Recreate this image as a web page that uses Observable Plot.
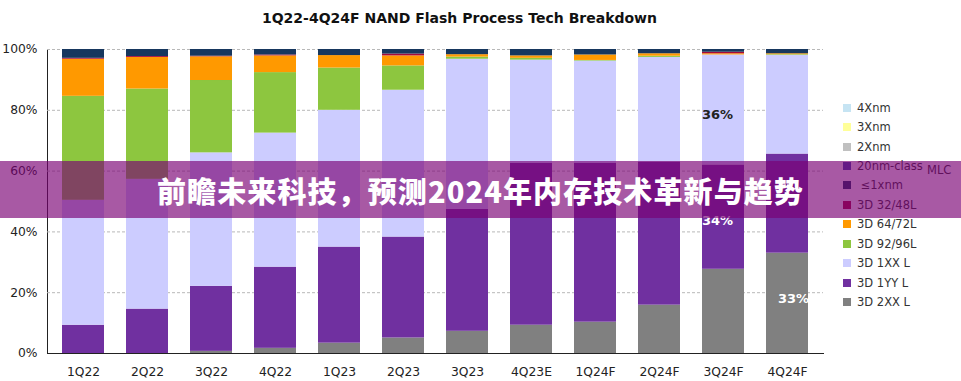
<!DOCTYPE html>
<html>
<head>
<meta charset="utf-8">
<script src="https://cdn.jsdelivr.net/npm/d3@7"></script>
<script src="https://cdn.jsdelivr.net/npm/@observablehq/plot@0.6"></script>
<style>
  body { margin: 0; background: #fff; }
  #wrap { position: relative; width: 961px; height: 381px; overflow: hidden; font-family: "DejaVu Sans", Verdana, sans-serif; }
  #chart { position: absolute; left: 0; top: 0; }
  #title { position: absolute; left: 0; width: 919px; top: 10px; text-align: center; font-weight: bold; font-size: 14px; color: #111; }
  #legend { position: absolute; left: 843px; top: 98px; font-size: 11.5px; color: #333; }
  .item { height: 19.45px; display: flex; align-items: center; white-space: nowrap; }
  .sw { width: 8px; height: 8px; margin-right: 6px; flex: none; }
  #mlc { position: absolute; left: 927px; top: 163px; font-size: 11.5px; color: #333; }
  #banner { position: absolute; left: 0; top: 161px; width: 961px; height: 57px; background: rgba(121, 0, 115, 0.65);
            display: flex; align-items: center; justify-content: center; }
  #banner span { color: #fff; font-family: "Noto Sans CJK SC", sans-serif; font-weight: 900; font-size: 29px; letter-spacing: 1.1px; }
</style>
</head>
<body>
<div id="wrap">
  <div id="chart"></div>
  <div id="title"></div>
  <div id="legend"></div>
  <div id="mlc">MLC</div>
  <div id="banner"><span></span></div>
</div>
<script>
const titleText = "1Q22-4Q24F NAND Flash Process Tech Breakdown";
const bannerText = "前瞻未来科技，预测2024年内存技术革新与趋势";

const quarters = ["1Q22","2Q22","3Q22","4Q22","1Q23","2Q23","3Q23","4Q23E","1Q24F","2Q24F","3Q24F","4Q24F"];

// stacking order, bottom to top
const techs = ["3D 2XX L","3D 1YY L","3D 1XX L","3D 92/96L","3D 64/72L","3D 32/48L","≤1xnm","20nm-class","2Xnm","3Xnm","4Xnm"];
const techColors = ["#808080","#7030a0","#ccccff","#8dc63f","#ff9900","#a50a3c","#17375e","#3f48a8","#c0c0c0","#ffff99","#c6e4f3"];

// legend order, top to bottom
const legendOrder = ["4Xnm","3Xnm","2Xnm","20nm-class","≤1xnm","3D 32/48L","3D 64/72L","3D 92/96L","3D 1XX L","3D 1YY L","3D 2XX L"];

// share (%) per quarter
const s3D2XX  = [0.0, 0.0, 0.7, 1.7, 3.4, 5.1, 7.3, 9.3, 10.3, 15.9, 27.7, 33.0];
const s3D1YY  = [9.3, 14.6, 21.4, 26.7, 31.6, 33.2, 40.1, 53.2, 52.2, 47.1, 34.3, 32.6];
const s3D1XX  = [41.1, 42.7, 43.9, 44.1, 45.0, 48.3, 49.4, 34.0, 33.7, 34.4, 36.2, 32.5];
const s3D9296 = [34.2, 29.7, 23.8, 19.9, 13.9, 8.0, 0.7, 0.6, 0.2, 0.4, 0.0, 0.2];
const s3D6472 = [12.2, 10.4, 7.8, 5.5, 4.1, 3.3, 0.8, 0.8, 1.8, 0.8, 0.4, 0.3];
const s3D3248 = [0.3, 0.3, 0.2, 0.3, 0.0, 0.6, 0.0, 0.0, 0.0, 0.0, 0.5, 0.0];
const sLE1x   = [2.9, 2.3, 2.2, 1.8, 2.0, 1.5, 1.7, 2.1, 1.8, 1.4, 0.9, 1.4];
const s20nm   = [0,0,0,0,0,0,0,0,0,0,0,0];
const s2X     = [0,0,0,0,0,0,0,0,0,0,0,0];
const s3X     = [0,0,0,0,0,0,0,0,0,0,0,0];
const s4X     = [0,0,0,0,0,0,0,0,0,0,0,0];
const seriesValues = [s3D2XX, s3D1YY, s3D1XX, s3D9296, s3D6472, s3D3248, sLE1x, s20nm, s2X, s3X, s4X];

const yTicks = [0, 20, 40, 60, 80, 100];

// labels shown on bars: [quarter, tech, text]
const darkLabels  = [["3Q24F","3D 1XX L","36%"]];
const whiteLabels1 = [["3Q24F","3D 1YY L","34%"]];
const whiteLabels2 = [["4Q24F","3D 2XX L","33%"]];

const rows = [];
techs.forEach((t, i) => quarters.forEach((q, j) => rows.push({quarter: q, tech: t, value: seriesValues[i][j]})));

const labelFn = (list) => (d) => {
  const m = list.find(l => l[0] === d.quarter && l[1] === d.tech);
  return m ? m[2] : "";
};

const stackOpts = {x: "quarter", y: "value", z: "tech", order: techs};

const chart = Plot.plot({
  width: 961,
  height: 381,
  marginTop: 49,
  marginBottom: 28,
  marginLeft: 47,
  marginRight: 138,
  style: {fontFamily: "DejaVu Sans, Verdana, sans-serif", fontSize: "12.3px", color: "#222", background: "transparent", overflow: "visible"},
  x: {domain: quarters, paddingInner: 0.35, paddingOuter: 0.175, label: null, tickSize: 0, tickPadding: 14, line: true},
  y: {domain: [0, 100], ticks: yTicks, tickFormat: d => d + "%", label: null, tickSize: 0, tickPadding: 10, line: true},
  color: {domain: techs, range: techColors},
  marks: [
    Plot.ruleY(yTicks.filter(d => d > 0), {stroke: "#b8b8b8", strokeDasharray: "3,2", strokeWidth: 1}),
    Plot.barY(rows, Plot.stackY({...stackOpts, fill: "tech"})),
    Plot.text(rows, Plot.stackY({...stackOpts, text: labelFn(darkLabels), fill: "#222", fontWeight: "bold", fontSize: 13, dx: -6, dy: 5})),
    Plot.text(rows, Plot.stackY({...stackOpts, text: labelFn(whiteLabels1), fill: "#fff", fontWeight: "bold", fontSize: 13, dx: -6, dy: 4})),
    Plot.text(rows, Plot.stackY({...stackOpts, text: labelFn(whiteLabels2), fill: "#fff", fontWeight: "bold", fontSize: 13, dx: 6, dy: -5}))
  ]
});
document.getElementById("chart").appendChild(chart);

document.getElementById("title").textContent = titleText;
document.querySelector("#banner span").textContent = bannerText;

const legend = document.getElementById("legend");
legendOrder.forEach(name => {
  const item = document.createElement("div");
  item.className = "item";
  const sw = document.createElement("span");
  sw.className = "sw";
  sw.style.background = techColors[techs.indexOf(name)];
  const label = document.createElement("span");
  label.textContent = name === "≤1xnm" ? "\u00a0≤1xnm" : name;
  item.appendChild(sw);
  item.appendChild(label);
  legend.appendChild(item);
});
</script>
</body>
</html>
